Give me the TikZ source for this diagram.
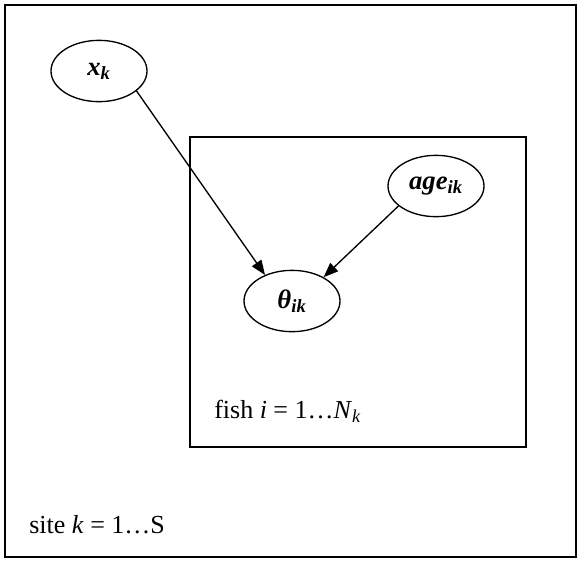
\documentclass[tikz,border=0pt]{standalone}
\usepackage{fontspec}
\setmainfont{Liberation Serif}
\usetikzlibrary{arrows.meta,shapes.geometric}
\tikzset{
  var/.style={draw, ellipse, line width=1pt, minimum width=72pt, minimum height=46pt,
    inner sep=0pt, font=\fontsize{20}{24}\selectfont\bfseries\itshape},
  plate/.style={draw, line width=1pt},
  platelabel/.style={anchor=west, inner sep=0pt, font=\fontsize{19.5}{23}\selectfont}
}

\begin{document}
\begin{tikzpicture}[x=0.75pt, y=-0.75pt, >={Triangle[length=11pt,width=8.5pt]}]
  \useasboundingbox (0,0) rectangle (580,562);
  % plates
  \draw[plate] (5,5) rectangle (576,557);
  \draw[plate] (190,137) rectangle (526,447);
  \node[platelabel] (sitelbl) at (29,525) {site \textit{k} = 1…S};
  \node[platelabel] (fishlbl) at (214,411) {fish \textit{i} = 1…\textit{N}\textsubscript{\textit{k}}};

  % variables
  \node[var] (xk)    at (99,71)   {x\textsubscript{k}};
  \node[var] (age)   at (436,186) {age\textsubscript{ik}};
  \node[var] (theta) at (292,301) {θ\textsubscript{ik}};

  \draw[->, line width=1pt] (xk.-28) -- (theta.136);
  \draw[->, line width=1pt] (age.208) -- (theta.37);
\end{tikzpicture}
\end{document}
